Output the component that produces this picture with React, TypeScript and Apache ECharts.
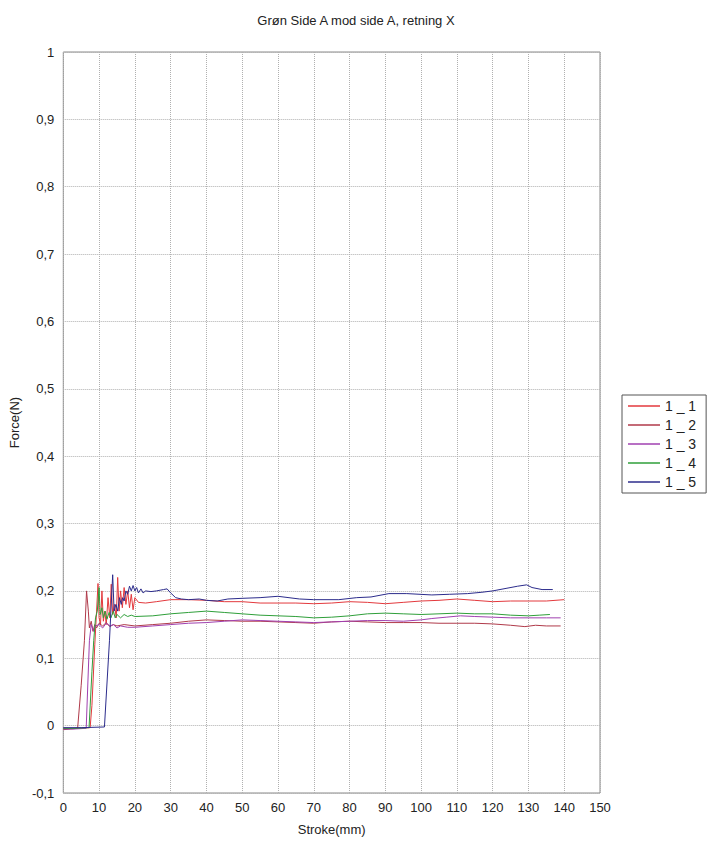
import React, { useEffect, useRef } from "react";
import * as echarts from "echarts";

const titleText = "Grøn Side A mod side A, retning X";
const xName = "Stroke(mm)";
const yName = "Force(N)";
const seriesNames = ["1 _ 1", "1 _ 2", "1 _ 3", "1 _ 4", "1 _ 5"];
const seriesColors = ["#e3393d", "#b03a4a", "#a040b0", "#2f9f3a", "#2c2c8c"];

const s11: number[][] = [
  [0, -0.004], [3, -0.004], [7.5, -0.003], [8, 0.03], [8.8, 0.12], [9.3, 0.17], [9.7, 0.211],
  [10, 0.16], [10.4, 0.15], [10.8, 0.2], [11.2, 0.155], [11.6, 0.17], [12, 0.15], [12.5, 0.19],
  [13, 0.16], [13.4, 0.21], [13.8, 0.165], [14.3, 0.18], [14.8, 0.16], [15.2, 0.22], [15.6, 0.17],
  [16, 0.2], [16.5, 0.175], [17, 0.205], [17.5, 0.18], [18, 0.2], [18.5, 0.175], [19, 0.195],
  [19.5, 0.172], [20, 0.19], [21, 0.183], [23, 0.182], [26, 0.184], [30, 0.187], [35, 0.187],
  [40, 0.186], [45, 0.184], [50, 0.184], [55, 0.182], [60, 0.182], [65, 0.182], [70, 0.181],
  [75, 0.182], [80, 0.184], [85, 0.183], [90, 0.181], [95, 0.183], [100, 0.185], [105, 0.186],
  [110, 0.188], [115, 0.186], [120, 0.184], [125, 0.185], [130, 0.185], [135, 0.185], [140, 0.187],
];

const s12: number[][] = [
  [0, -0.006], [2, -0.005], [4, -0.004], [5, 0.06], [5.9, 0.126], [6.5, 0.2], [7, 0.17],
  [7.3, 0.145], [7.8, 0.155], [8.3, 0.14], [8.8, 0.15], [9.3, 0.145], [10, 0.152], [11, 0.148],
  [12, 0.153], [13, 0.147], [14, 0.15], [15, 0.148], [17, 0.15], [20, 0.148], [25, 0.15],
  [30, 0.152], [35, 0.155], [40, 0.157], [45, 0.156], [50, 0.155], [55, 0.155], [60, 0.154],
  [65, 0.153], [70, 0.152], [75, 0.154], [80, 0.155], [85, 0.154], [90, 0.153], [95, 0.153],
  [100, 0.153], [105, 0.152], [110, 0.152], [115, 0.152], [120, 0.151], [125, 0.149],
  [129, 0.147], [132, 0.149], [135, 0.148], [139, 0.148],
];

const s13: number[][] = [
  [0, -0.005], [3, -0.005], [6.4, -0.004], [7.3, 0.126], [7.8, 0.15], [8.5, 0.14], [9, 0.148],
  [10, 0.15], [11, 0.145], [12, 0.152], [13, 0.148], [14, 0.15], [15, 0.145], [16, 0.148],
  [18, 0.146], [20, 0.146], [25, 0.148], [30, 0.15], [35, 0.152], [40, 0.153], [45, 0.155],
  [50, 0.157], [55, 0.156], [60, 0.155], [65, 0.154], [70, 0.153], [75, 0.154], [80, 0.155],
  [85, 0.156], [90, 0.156], [95, 0.155], [100, 0.157], [103, 0.159], [107, 0.161], [111, 0.163],
  [115, 0.162], [120, 0.161], [125, 0.16], [130, 0.16], [135, 0.16], [139, 0.16],
];

const s14: number[][] = [
  [0, -0.004], [3, -0.004], [7.2, -0.003], [8, 0.08], [8.5, 0.126], [9, 0.16], [9.5, 0.17],
  [10, 0.205], [10.3, 0.165], [10.8, 0.175], [11.2, 0.16], [11.7, 0.17], [12.2, 0.158],
  [12.8, 0.168], [13.3, 0.16], [14, 0.17], [14.5, 0.16], [15, 0.165], [16, 0.16], [17, 0.165],
  [18, 0.162], [19, 0.164], [20, 0.162], [25, 0.163], [30, 0.166], [35, 0.168], [40, 0.17],
  [45, 0.168], [50, 0.166], [55, 0.164], [60, 0.163], [65, 0.162], [70, 0.16], [75, 0.161],
  [80, 0.163], [85, 0.166], [90, 0.167], [95, 0.166], [100, 0.165], [105, 0.166], [110, 0.167],
  [115, 0.166], [120, 0.166], [125, 0.164], [130, 0.163], [133, 0.164], [136, 0.165],
];

const s15: number[][] = [
  [0, -0.003], [5, -0.003], [11.5, -0.002], [12.9, 0.126], [13.8, 0.224], [14.2, 0.17],
  [14.7, 0.18], [15.2, 0.17], [15.7, 0.19], [16.2, 0.18], [16.6, 0.19], [17, 0.185], [17.5, 0.2],
  [18, 0.195], [18.5, 0.207], [19, 0.2], [19.5, 0.208], [20, 0.2], [20.5, 0.205], [21, 0.197],
  [21.7, 0.203], [22.3, 0.197], [23, 0.2], [24.5, 0.199], [26, 0.2], [28, 0.202], [29, 0.203],
  [30, 0.197], [31.4, 0.19], [33, 0.188], [35, 0.187], [38, 0.188], [40, 0.186], [43, 0.185],
  [46, 0.188], [50, 0.189], [55, 0.19], [60, 0.192], [66, 0.188], [70, 0.187], [77, 0.187],
  [82, 0.19], [86, 0.191], [91, 0.196], [96, 0.196], [103, 0.194], [108, 0.195], [113, 0.196],
  [117, 0.198], [120, 0.2], [124, 0.204], [127, 0.207], [129.5, 0.209], [131, 0.205],
  [133.8, 0.202], [136.8, 0.202],
];

const allSeries = [s11, s12, s13, s14, s15];

const fontFamily = "'Liberation Sans', Arial, sans-serif";

function fmtY(v: number): string {
  const r = Math.round(v * 10) / 10;
  if (r === 0) return "0";
  return String(r).replace(".", ",");
}

export default function App() {
  const ref = useRef<HTMLDivElement>(null);
  useEffect(() => {
    if (!ref.current) return;
    const chart = echarts.init(ref.current, null, { renderer: "svg" });
    chart.setOption({
      animation: false,
      backgroundColor: "#ffffff",
      title: {
        text: titleText,
        left: "center",
        top: 9,
        textStyle: { fontFamily, fontSize: 13, fontWeight: "normal", color: "#222" },
      },
      legend: {
        orient: "vertical",
        left: 622,
        top: 395,
        borderColor: "#555",
        borderWidth: 1,
        padding: [4, 10, 4, 6],
        itemGap: 5,
        itemWidth: 32,
        itemHeight: 1.5,
        icon: "rect",
        textStyle: { fontFamily, fontSize: 14, color: "#222", lineHeight: 14 },
        data: seriesNames,
      },
      grid: {
        left: 62,
        right: 112,
        top: 52,
        bottom: 48,
        show: true,
        borderColor: "#888",
        borderWidth: 1,
        containLabel: false,
      },
      xAxis: {
        type: "value",
        min: 0,
        max: 150,
        interval: 10,
        name: xName,
        nameLocation: "middle",
        nameGap: 30,
        nameTextStyle: { fontFamily, fontSize: 13, color: "#222" },
        axisLine: { show: false },
        axisTick: { show: false },
        axisLabel: { fontFamily, fontSize: 13, color: "#222", margin: 8 },
        splitLine: { show: true, lineStyle: { color: "#b0b0b0", type: "dotted", width: 1 } },
      },
      yAxis: {
        type: "value",
        min: -0.1,
        max: 1,
        interval: 0.1,
        name: yName,
        nameLocation: "middle",
        nameGap: 38,
        nameRotate: 90,
        nameTextStyle: { fontFamily, fontSize: 13, color: "#222" },
        axisLine: { show: false },
        axisTick: { show: false },
        axisLabel: { fontFamily, fontSize: 13, color: "#222", margin: 9, formatter: (v: number) => fmtY(v) },
        splitLine: { show: true, lineStyle: { color: "#b0b0b0", type: "dotted", width: 1 } },
      },
      series: allSeries.map((d, i) => ({
        name: seriesNames[i],
        type: "line",
        data: d,
        showSymbol: false,
        symbol: "none",
        color: seriesColors[i],
        lineStyle: { width: 1, color: seriesColors[i] },
      })),
    });
    return () => chart.dispose();
  }, []);
  return (
    <div
      ref={ref}
      style={{ position: "fixed", left: 0, top: 0, width: 712, height: 841, background: "#fff" }}
    />
  );
}
